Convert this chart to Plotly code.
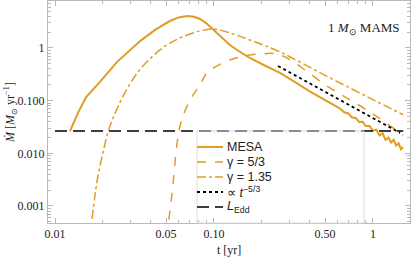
import plotly.graph_objects as go

ORANGE = "#E19C24"

# MESA (solid)
mesa_t = [0.0124, 0.0140, 0.0157, 0.019, 0.0245, 0.0343, 0.0426, 0.0528, 0.060, 0.0676,
          0.075, 0.0817, 0.090, 0.097, 0.11, 0.126, 0.145, 0.168, 0.21, 0.26,
          0.32, 0.40, 0.537, 0.62, 0.66, 0.70, 0.74, 0.78, 0.82, 0.86,
          0.90, 0.95, 1.00, 1.05, 1.10, 1.15, 1.20, 1.25, 1.30, 1.35,
          1.40, 1.45, 1.50, 1.55]
mesa_m = [0.026, 0.060, 0.117, 0.22, 0.54, 1.35, 2.2, 3.25, 3.8, 4.05,
          3.9, 3.55, 2.9, 2.35, 1.6, 1.14, 0.85, 0.646, 0.46, 0.336,
          0.23, 0.15, 0.091, 0.071, 0.060, 0.057, 0.048, 0.047, 0.039, 0.040,
          0.033, 0.033, 0.027, 0.028, 0.022, 0.024, 0.018, 0.020, 0.016, 0.018,
          0.014, 0.0155, 0.012, 0.0132]

# gamma = 5/3 (dashed, late)
g53_t = [0.052, 0.0552, 0.0585, 0.062, 0.0707, 0.0817, 0.0904, 0.114, 0.146, 0.195,
         0.26, 0.537, 0.957, 1.55]
g53_m = [0.00055, 0.0025, 0.015, 0.039, 0.103, 0.2, 0.336, 0.52, 0.675, 0.77,
         0.74, 0.174, 0.061, 0.022]

# gamma = 1.35 (dash-dot, early)
g135_t = [0.0171, 0.0178, 0.0186, 0.020, 0.0216, 0.024, 0.0275, 0.0333, 0.0457, 0.061,
          0.0817, 0.098, 0.126, 0.168, 0.26, 0.537, 0.957, 1.55]
g135_m = [0.00057, 0.0015, 0.0036, 0.010, 0.026, 0.06, 0.14, 0.35, 0.92, 1.55,
          2.1, 2.3, 1.93, 1.42, 0.84, 0.27, 0.112, 0.054]

# t^-5/3 guide
pl_t = [0.253, 1.48]
pl_m = [0.455, 0.0244]

# Eddington
edd_t = [0.0100, 1.55]
edd_m = [0.0266, 0.0266]

legend_labels = ["MESA", "γ = 5/3", "γ = 1.35", "∝ <i>t</i><sup>−5/3</sup>", "<i>L</i><sub>Edd</sub>"]

styles = [dict(color=ORANGE, width=2),
          dict(color=ORANGE, width=1.5, dash="dash"),
          dict(color=ORANGE, width=1.5, dash="dashdot"),
          dict(color="black", width=1.8, dash="dot"),
          dict(color="black", width=1.5, dash="12px,6px")]

fig = go.Figure()
series = [(mesa_t, mesa_m, "linear"), (g53_t, g53_m, "spline"), (g135_t, g135_m, "spline"),
          (pl_t, pl_m, "linear"), (edd_t, edd_m, "linear")]
for (tx, my, shp), lab, st in zip(series, legend_labels, styles):
    fig.add_trace(go.Scatter(x=tx, y=my, mode="lines", name=lab,
                             line=dict(shape=shp, **st), showlegend=False))

FRAME = "#b8b8b8"
xminor = [v * m for m in (0.01, 0.1, 1) for v in range(2, 10)]
yminor = [v * m for m in (0.0001, 0.001, 0.01, 0.1, 1) for v in range(2, 10)]

fig.update_xaxes(type="log", range=[-2.044, 0.233],
                 tickvals=[0.01, 0.05, 0.1, 0.5, 1],
                 ticktext=["0.01", "0.05", "0.10", "0.50", "1"],
                 ticks="inside", ticklen=5, tickcolor=FRAME,
                 showline=True, linecolor=FRAME, linewidth=1, mirror="allticks",
                 showgrid=False, zeroline=False,
                 minor=dict(tickvals=xminor, ticks="inside", ticklen=3, tickcolor=FRAME, showgrid=False),
                 tickfont=dict(family="Liberation Serif", size=12, color="#222"))
fig.update_yaxes(type="log", range=[-3.323, 0.892],
                 tickvals=[0.001, 0.01, 0.1, 1],
                 ticktext=["0.001", "0.010", "0.100", "1"],
                 ticks="inside", ticklen=5, tickcolor=FRAME,
                 showline=True, linecolor=FRAME, linewidth=1, mirror="allticks",
                 showgrid=False, zeroline=False,
                 minor=dict(tickvals=yminor, ticks="inside", ticklen=3, tickcolor=FRAME, showgrid=False),
                 tickfont=dict(family="Liberation Serif", size=12, color="#222"))

fig.add_annotation(xref="paper", yref="paper", x=-0.105, y=0.5, textangle=-90,
                   xanchor="center", yanchor="middle",
                   text="<i>M\u0307</i> [<i>M</i><sub>⊙</sub> yr<sup>−1</sup>]", showarrow=False,
                   font=dict(family="Liberation Serif", size=12, color="#222"))
fig.add_annotation(xref="paper", yref="paper", x=0.5, y=-0.122, yanchor="middle",
                   text="t [yr]", showarrow=False,
                   font=dict(family="Liberation Serif", size=12, color="#222"))
fig.add_annotation(xref="paper", yref="paper", x=0.978, y=0.878, xanchor="right", yanchor="middle",
                   text="1 <i>M</i><sub>⊙</sub> MAMS", showarrow=False,
                   font=dict(family="Liberation Serif", size=13, color="#222"))

# legend (layout decoration): frame, key lines and labels
LEG_X0, LEG_X1, LEG_TX, LEG_RIGHT, LEG_TOP = 0.4116, 0.4834, 0.489, 0.873, 0.4144
LEG_ROWS = [0.3423, 0.2748, 0.2072, 0.1396, 0.0721]
fig.add_shape(type="rect", xref="paper", yref="paper", x0=LEG_X0, x1=LEG_RIGHT, y0=0, y1=LEG_TOP,
              line=dict(color="#dcdcdc", width=1), fillcolor="rgba(0,0,0,0)", layer="above")
for ry, lab, st in zip(LEG_ROWS, legend_labels, styles):
    fig.add_shape(type="line", xref="paper", yref="paper", x0=LEG_X0, x1=LEG_X1, y0=ry, y1=ry,
                  line=st)
    fig.add_annotation(xref="paper", yref="paper", x=LEG_TX, y=ry, xanchor="left", yanchor="middle",
                       text=lab, showarrow=False,
                       font=dict(family="Liberation Sans", size=12.5, color="#222"))

fig.update_layout(width=411, height=257, margin=dict(l=48, r=1, t=1, b=34),
                  plot_bgcolor="white", paper_bgcolor="white", showlegend=False)

fig.write_html("out.html", config={"displayModeBar": False},
               post_script="document.body.style.margin='0';document.body.style.padding='0';document.body.style.overflow='hidden';")
